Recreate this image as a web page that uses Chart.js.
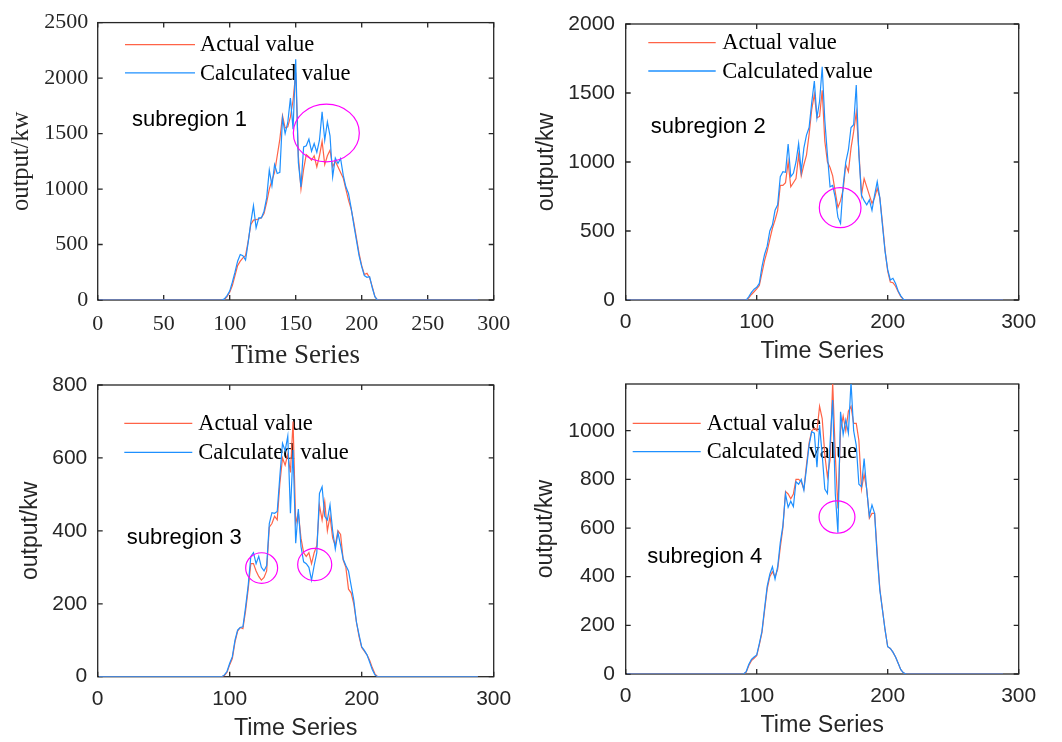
<!DOCTYPE html>
<html>
<head>
<meta charset="utf-8">
<script src="https://cdn.jsdelivr.net/npm/chart.js@4.4.1/dist/chart.umd.min.js"></script>
<style>
html,body{margin:0;padding:0;background:#fff;}
#wrap{position:relative;width:1062px;height:742px;overflow:hidden;background:#fff;}
canvas{position:absolute;left:0;top:0;}
</style>
</head>
<body>
<div id="wrap">
<canvas id="c1" width="1062" height="742"></canvas>
<canvas id="c2" width="1062" height="742"></canvas>
<canvas id="c3" width="1062" height="742"></canvas>
<canvas id="c4" width="1062" height="742"></canvas>
</div>
<script>
// ---------------- DATA ----------------
const seriesLabels = ['Actual value', 'Calculated value'];
const xAxisLabel = 'Time Series';
const yAxisLabel = 'output/kw';
const regionNames = ['subregion 1', 'subregion 2', 'subregion 3', 'subregion 4'];

const xTicks1 = [0, 50, 100, 150, 200, 250, 300];
const xTicks = [0, 100, 200, 300];
const yTicks1 = [0, 500, 1000, 1500, 2000, 2500];
const yTicks2 = [0, 500, 1000, 1500, 2000];
const yTicks3 = [0, 200, 400, 600, 800];
const yTicks4 = [0, 200, 400, 600, 800, 1000];

const timeSeries = [1,
  90,92,94,96,98,100,102,104,106,108,
  110,112,114,116,118,120,122,124,126,128,
  130,132,134,136,138,140,142,144,146,148,
  150,152,154,156,158,160,162,164,166,168,
  170,172,174,176,178,180,182,184,186,188,
  190,192,194,196,198,200,202,204,206,208,
  210,212,214,216,
  288];

const actual1 = [0,
  0,0,0,5,30,70,130,220,310,350,
  380,400,530,680,720,725,730,740,780,880,
  1000,1080,1150,1300,1450,1660,1550,1560,1650,1800,
  2050,1300,1000,1180,1310,1290,1260,1300,1200,1300,
  1430,1220,1300,1350,1200,1250,1200,1150,1100,1000,
  900,820,700,560,420,310,230,240,200,120,
  30,0,0,0,
  0];
const calc1 = [0,
  0,0,0,10,40,80,160,250,350,410,
  400,360,520,700,850,650,740,740,800,920,
  1170,1030,1220,1140,1150,1640,1500,1600,1820,1540,
  2170,1240,1020,1380,1390,1450,1340,1410,1330,1440,
  1695,1440,1605,1480,1110,1280,1230,1275,1125,1020,
  960,830,680,540,400,300,220,205,210,110,
  30,0,0,0,
  0];

const actual2 = [0,
  0,0,15,40,60,80,105,195,285,355,
  440,520,580,650,830,830,850,1000,820,850,
  880,1050,900,980,1050,1200,1380,1490,1320,1330,
  1520,1150,1000,960,900,780,670,720,800,980,
  930,1100,1220,1360,1080,760,880,820,760,700,
  740,810,740,560,360,210,130,125,100,60,
  25,5,0,0,
  0];
const calc2 = [0,
  0,0,25,55,78,92,120,240,330,390,
  500,545,650,690,894,930,925,1130,894,918,
  1000,1135,930,1100,1195,1250,1430,1587,1320,1440,
  1690,1300,1050,820,830,740,600,555,830,1000,
  1087,1250,1270,1557,1050,760,720,690,725,650,
  760,857,740,540,350,220,145,157,120,65,
  30,5,0,0,
  0];

const actual3 = [0,
  0,0,0,3,12,33,50,95,125,135,
  132,180,240,310,310,290,275,265,272,290,
  410,420,440,430,530,600,580,610,560,700,
  420,450,380,340,330,340,310,340,360,470,
  430,480,400,440,380,360,400,390,320,300,
  240,230,200,150,110,80,70,60,45,25,
  8,0,0,0,
  0];
const calc3 = [0,
  0,0,0,5,15,37,55,100,128,135,
  137,190,250,330,340,310,330,300,290,305,
  420,450,448,453,550,640,620,660,448,622,
  366,460,357,315,310,300,265,305,340,503,
  521,440,430,471,400,350,395,360,322,305,
  290,250,210,150,115,82,72,60,40,20,
  5,0,0,0,
  0];

const actual4 = [0,
  0,8,35,55,65,75,120,170,260,350,
  400,420,400,430,520,600,750,740,720,740,
  800,800,790,760,860,950,1000,1010,1000,1100,
  1050,900,810,880,1200,900,680,1000,1060,1000,
  1080,1100,1030,1030,960,760,820,760,640,660,
  660,500,350,265,181,112,105,90,70,44,
  18,5,0,0,
  0];
const calc4 = [0,
  0,10,40,60,70,78,125,175,270,360,
  410,441,390,441,540,610,740,685,710,688,
  790,780,800,756,845,940,996,990,850,1023,
  900,760,742,948,1126,740,581,1078,985,1044,
  990,1200,1000,940,780,770,886,756,650,695,
  660,480,345,263,181,112,105,90,70,44,
  18,5,0,0,
  0];

// highlighted regions (data units): centre x, centre y, radius x, radius y
const ellipses1 = [[173.2, 1505, 25, 260]];
const ellipses2 = [[163.7, 669, 15.9, 145]];
const ellipses3 = [[124.2, 298, 12.1, 42], [164.4, 307.7, 12.9, 44.3]];
const ellipses4 = [[161.3, 645, 13.7, 66.5]];

// region label anchor (data units)
const regionAnchor1 = [26, 1572];
const regionAnchor2 = [19.1, 1212];
const regionAnchor3 = [22, 364];
const regionAnchor4 = [16.5, 455];

// ---------------- STYLE / LAYOUT ----------------
const RED = '#FF6347';
const BLUE = '#1E90FF';
const AXIS = '#262626';
const SERIF = "'Times New Roman', 'Liberation Serif', serif";
const SANS = "Arial, 'Liberation Sans', sans-serif";

const panels = [
  {id:'c1', actual:actual1, calc:calc1, ell:ellipses1, anchor:regionAnchor1, name:regionNames[0],
   xT:xTicks1, yT:yTicks1,
   plotTop:19, plotBottom:300, plotRight:493.7, padLeft:7.0, yW:90.7, xH:72.1,
   yMax:2500, tickFamily:SERIF, tickSize:22, titleFamily:SERIF, yTitleSize:24.5, xTitleSize:27,
   yPad:9.4, xPad:11, leg:{x0:27.3, x1:97.3, tx:102.3, rows:[22, 50.3]}},
  {id:'c2', actual:actual2, calc:calc2, ell:ellipses2, anchor:regionAnchor2, name:regionNames[1],
   xT:xTicks, yT:yTicks2,
   plotTop:24, plotBottom:300, plotRight:1018.7, padLeft:533.2, yW:92.5, xH:65.9,
   yMax:2000, tickFamily:SANS, tickSize:21, titleFamily:SANS, yTitleSize:23, xTitleSize:23.3,
   yPad:10.7, xPad:10.1, leg:{x0:22.6, x1:90, tx:96.6, rows:[18.7, 47]}},
  {id:'c3', actual:actual3, calc:calc3, ell:ellipses3, anchor:regionAnchor3, name:regionNames[2],
   xT:xTicks, yT:yTicks3,
   plotTop:385, plotBottom:676.7, plotRight:493.7, padLeft:17.2, yW:80.5, xH:65.9,
   yMax:800, tickFamily:SANS, tickSize:21, titleFamily:SANS, yTitleSize:23, xTitleSize:23.3,
   yPad:10.4, xPad:9.9, leg:{x0:26.6, x1:94.6, tx:100.6, rows:[38.3, 67.3]}},
  {id:'c4', actual:actual4, calc:calc4, ell:ellipses4, anchor:regionAnchor4, name:regionNames[3],
   xT:xTicks, yT:yTicks4,
   plotTop:384, plotBottom:674, plotRight:1018.7, padLeft:532.2, yW:93.5, xH:65.2,
   yMax:1192, tickFamily:SANS, tickSize:21, titleFamily:SANS, yTitleSize:23, xTitleSize:23.3,
   yPad:10.7, xPad:10.1, leg:{x0:7, x1:75, tx:81, rows:[39.3, 67.7]}}
];

const framePlugin = {
  id: 'frame',
  beforeDatasetsDraw(chart, args, o) {
    const {ctx, chartArea: a, scales: {x, y}} = chart;
    ctx.save();
    ctx.strokeStyle = AXIS;
    ctx.lineWidth = 1.3;
    ctx.strokeRect(a.left, a.top, a.right - a.left, a.bottom - a.top);
    const L = 5;
    ctx.beginPath();
    x.ticks.forEach(t => {
      const px = x.getPixelForValue(t.value);
      ctx.moveTo(px, a.bottom); ctx.lineTo(px, a.bottom - L);
      ctx.moveTo(px, a.top); ctx.lineTo(px, a.top + L);
    });
    y.ticks.forEach(t => {
      const py = y.getPixelForValue(t.value);
      ctx.moveTo(a.left, py); ctx.lineTo(a.left + L, py);
      ctx.moveTo(a.right, py); ctx.lineTo(a.right - L, py);
    });
    ctx.stroke();
    // legend
    const lg = o.leg;
    ctx.font = '22.5px ' + SERIF;
    ctx.textBaseline = 'middle';
    ctx.textAlign = 'left';
    seriesLabels.forEach((lab, i) => {
      const ds = chart.data.datasets.find(d => d.label === lab);
      const yy = a.top + lg.rows[i];
      ctx.strokeStyle = ds.borderColor;
      ctx.lineWidth = 1.3;
      ctx.beginPath();
      ctx.moveTo(a.left + lg.x0, yy);
      ctx.lineTo(a.left + lg.x1, yy);
      ctx.stroke();
      ctx.fillStyle = '#000';
      ctx.fillText(lab, a.left + lg.tx, yy + 0.8);
    });
    ctx.restore();
  },
  afterDatasetsDraw(chart, args, o) {
    const {ctx, scales: {x, y}} = chart;
    ctx.save();
    ctx.strokeStyle = '#FF00FF';
    ctx.lineWidth = 1.2;
    o.ell.forEach(e => {
      const cx = x.getPixelForValue(e[0]);
      const cy = y.getPixelForValue(e[1]);
      const rx = Math.abs(x.getPixelForValue(e[0] + e[2]) - cx);
      const ry = Math.abs(y.getPixelForValue(e[1] + e[3]) - cy);
      ctx.beginPath();
      ctx.ellipse(cx, cy, rx, ry, 0, 0, Math.PI * 2);
      ctx.stroke();
    });
    ctx.fillStyle = '#000';
    ctx.font = '22px ' + SANS;
    ctx.textBaseline = 'alphabetic';
    ctx.textAlign = 'left';
    ctx.fillText(o.name, x.getPixelForValue(o.anchor[0]), y.getPixelForValue(o.anchor[1]));
    ctx.restore();
  }
};

function toXY(vals) {
  return timeSeries.map((t, i) => ({x: t, y: vals[i]}));
}

panels.forEach(p => {
  new Chart(document.getElementById(p.id), {
    type: 'line',
    data: {
      datasets: [
        {label: seriesLabels[1], data: toXY(p.calc), borderColor: BLUE, borderWidth: 1.2,
         pointRadius: 0, tension: 0, fill: false, order: 0},
        {label: seriesLabels[0], data: toXY(p.actual), borderColor: RED, borderWidth: 1.2,
         pointRadius: 0, tension: 0, fill: false, order: 1}
      ]
    },
    options: {
      responsive: false,
      animation: false,
      devicePixelRatio: 1,
      events: [],
      layout: {padding: {left: p.padLeft, top: p.plotTop, right: 1062 - p.plotRight, bottom: 742 - p.plotBottom - p.xH}},
      plugins: {
        legend: {display: false},
        tooltip: {enabled: false},
        frame: {leg: p.leg, ell: p.ell, anchor: p.anchor, name: p.name}
      },
      scales: {
        x: {
          type: 'linear', min: 0, max: 300,
          grid: {display: false, drawTicks: false},
          border: {display: false},
          ticks: {padding: p.xPad, color: AXIS, maxRotation: 0, autoSkip: false,
                  font: {family: p.tickFamily, size: p.tickSize},
                  callback: v => String(v)},
          title: {display: true, text: xAxisLabel, color: AXIS, padding: 0,
                  font: {family: p.titleFamily, size: p.xTitleSize}},
          afterBuildTicks: s => { s.ticks = p.xT.map(v => ({value: v})); },
          afterFit: s => { s.height = p.xH; }
        },
        y: {
          type: 'linear', min: 0, max: p.yMax,
          grid: {display: false, drawTicks: false},
          border: {display: false},
          ticks: {padding: p.yPad, color: AXIS, autoSkip: false,
                  font: {family: p.tickFamily, size: p.tickSize},
                  callback: v => String(v)},
          title: {display: true, text: yAxisLabel, color: AXIS, padding: 0,
                  font: {family: p.titleFamily, size: p.yTitleSize}},
          afterBuildTicks: s => { s.ticks = p.yT.map(v => ({value: v})); },
          afterFit: s => { s.width = p.yW; }
        }
      }
    },
    plugins: [framePlugin]
  });
});
</script>
</body>
</html>
